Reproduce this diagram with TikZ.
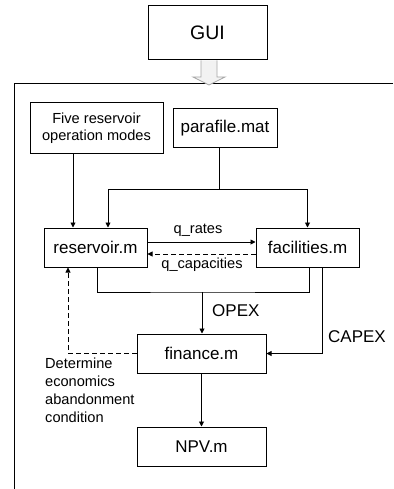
\documentclass[tikz,border=0pt]{standalone}
\usepackage{fontspec}
\setmainfont{Liberation Sans}
\usetikzlibrary{arrows.meta}
\begin{document}
\begin{tikzpicture}[x=1pt,y=-1pt,
  box/.style={draw,line width=1pt,inner sep=0pt,font=\fontsize{17}{20}\selectfont},
  small/.style={font=\fontsize{14.6}{17}\selectfont},
  arr/.style={line width=0.9pt,-{Triangle[width=5pt,length=5pt]}},
  ln/.style={line width=0.9pt}]
\useasboundingbox (0,0) rectangle (393,489);
% outer frame
\draw[ln] (393,83) -- (14,83) -- (14,489);
% nodes
\node[box,minimum width=119pt,minimum height=54pt,font=\fontsize{19.5}{22}\selectfont] (gui) at (207.5,33) {GUI};
\node[box,minimum width=133pt,minimum height=51pt,small,align=center] (five) at (96.5,128.5) {Five reservoir\\operation modes};
\node[box,minimum width=104pt,minimum height=39pt] (para) at (225,128.5) {parafile.mat};
\node[box,minimum width=103pt,minimum height=39pt] (res) at (95.5,247.5) {reservoir.m};
\node[box,minimum width=103pt,minimum height=39pt] (fac) at (307.5,247.5) {facilities.m};
\node[box,minimum width=129pt,minimum height=39pt] (fin) at (201.5,353.5) {finance.m};
\node[box,minimum width=129pt,minimum height=39pt] (npv) at (201.5,446.5) {NPV.m};
% hollow arrow
\coordinate (ha) at (209,85);
\draw[draw=gray!70,fill=gray!10,line width=0.8pt] (201,60.5) -- (201,77) -- (193,77) -- (ha) -- (225,77) -- (217,77) -- (217,60.5);
% connectors
\draw[arr] ([xshift=-23.5pt]five.south) -- ([xshift=-22.5pt]res.north);
\coordinate (pj) at (219,189);
\draw[ln] (para.south -| pj) -- (pj);
\draw[arr] (pj) -| ([xshift=12.5pt]res.north);
\draw[arr] (pj) -| (fac.north);
\draw[arr] ([yshift=5.5pt]res.east) -- ([yshift=5.5pt]fac.west);
\draw[arr,dashed,dash pattern=on 5pt off 3pt] ([yshift=-6.5pt]fac.west) -- ([yshift=-6.5pt]res.east);
\coordinate (ob) at (202,292);
\draw[ln] ([xshift=1.5pt]res.south) |- (ob) -| ([xshift=1.5pt]fac.south);
\draw[arr] (ob) -- (ob |- fin.north);
\draw[arr] ([xshift=14.5pt]fac.south) |- (fin.east);
\draw[arr,dashed,dash pattern=on 5pt off 3pt] (fin.west) -| ([xshift=-27.5pt]res.south);
\draw[arr] (fin) -- (npv);
% labels
\node[small] (lq) at (198,230) {q\_rates};
\node[small] (lc) at (202,265) {q\_capacities};
\node[font=\fontsize{17}{20}\selectfont,anchor=west,inner sep=0pt] (lo) at (212,311) {OPEX};
\node[font=\fontsize{17}{20}\selectfont,anchor=west,inner sep=0pt] (lx) at (328,337) {CAPEX};
\node[font=\fontsize{14.6}{18}\selectfont,anchor=north west,align=left,inner sep=0pt] (ld) at (45,358) {Determine\\economics\\abandonment\\condition};
\end{tikzpicture}
\end{document}
